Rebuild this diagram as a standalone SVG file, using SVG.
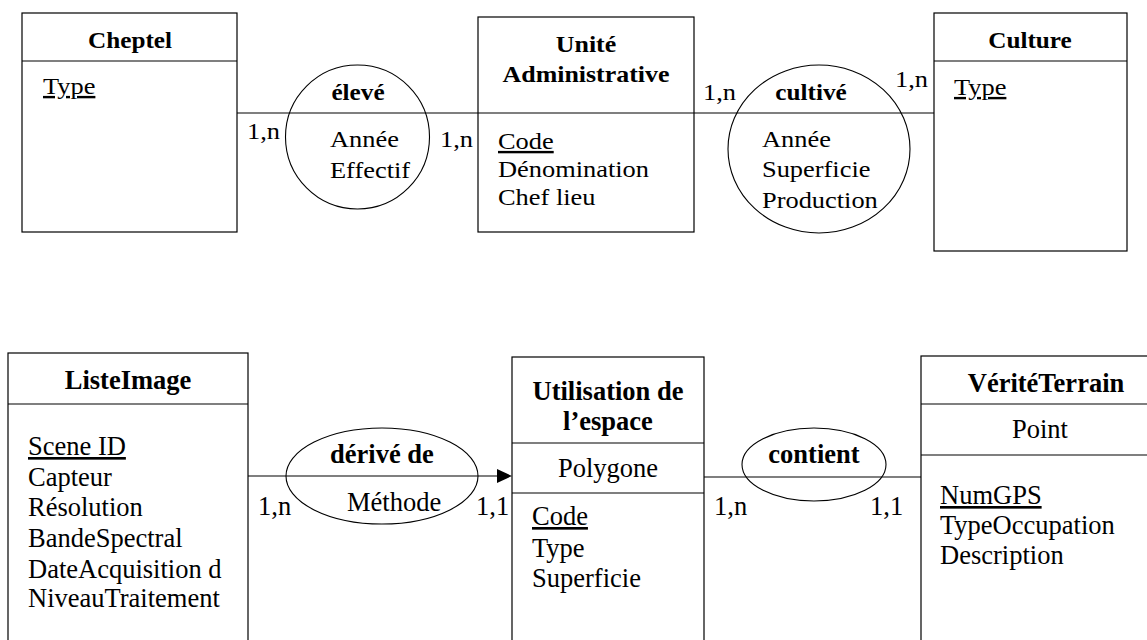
<svg xmlns="http://www.w3.org/2000/svg" width="1147" height="640" viewBox="0 0 1147 640">
  <defs>
    <style>
      .box { fill: #ffffff; stroke: #000000; stroke-width: 1.2; }
      .shape { fill: none; stroke: #000000; stroke-width: 1.1; }
      .div { stroke: #000000; stroke-width: 1.2; }
      .link { stroke: #000000; stroke-width: 1.1; fill: none; }
      text { font-family: "Liberation Serif", "Times New Roman", serif; fill: #000000; }
      .t { font-size: 24px; }
      .tb { font-size: 24px; font-weight: bold; text-anchor: middle; }
      .b { font-size: 26.5px; }
      .bb { font-size: 26.5px; font-weight: bold; text-anchor: middle; }
      .mid { text-anchor: middle; }
      .key { text-decoration: underline; }
    </style>
    <marker id="arrowhead" viewBox="0 0 15 14" refX="0" refY="7" markerWidth="15" markerHeight="14" markerUnits="userSpaceOnUse" orient="auto">
      <path d="M0,0 L15,7 L0,14 Z" fill="#000000"/>
    </marker>
  </defs>

  <rect width="1147" height="640" fill="#ffffff"/>

  <!-- connectors (lines pass behind/through the association shapes) -->
  <g id="connectors">
    <line class="link" x1="237" y1="113" x2="478" y2="113"/>
    <line class="link" x1="694" y1="113" x2="934" y2="113"/>
    <line class="link" x1="248" y1="476" x2="497" y2="476" marker-end="url(#arrowhead)"/>
    <line class="link" x1="704" y1="477" x2="921" y2="477"/>
  </g>

  <!-- cardinalities -->
  <g id="cardinalities">
    <text class="t" transform="translate(247,139) scale(1.1,1)">1,n</text>
    <text class="t" transform="translate(440,147) scale(1.1,1)">1,n</text>
    <text class="t" transform="translate(703,100) scale(1.1,1)">1,n</text>
    <text class="t" transform="translate(895,87) scale(1.1,1)">1,n</text>
    <text class="b" x="258" y="515">1,n</text>
    <text class="b" x="476" y="515">1,1</text>
    <text class="b" x="714" y="515">1,n</text>
    <text class="b" x="870" y="515">1,1</text>
  </g>

  <!-- entity: Cheptel -->
  <g id="cheptel">
    <rect class="box" x="22" y="13" width="215" height="219"/>
    <line class="div" x1="22" y1="61" x2="237" y2="61"/>
    <text class="tb" transform="translate(130,48) scale(1.05,1)">Cheptel</text>
    <text class="t key" transform="translate(43,94) scale(1.1,1)">Type</text>
  </g>

  <!-- association: élevé -->
  <g id="eleve">
    <circle class="shape" cx="357.5" cy="137" r="72"/>
    <text class="tb" transform="translate(358,100) scale(1.05,1)">élevé</text>
    <text class="t" transform="translate(330,147) scale(1.1,1)">Année</text>
    <text class="t" transform="translate(330,178) scale(1.1,1)">Effectif</text>
  </g>

  <!-- entity: Unité Administrative -->
  <g id="unite-administrative">
    <rect class="box" x="478" y="17" width="216" height="215"/>
    <line class="div" x1="478" y1="113" x2="694" y2="113"/>
    <text class="tb" transform="translate(586,52) scale(1.08,1)">Unité</text>
    <text class="tb" transform="translate(586,82) scale(1.08,1)">Administrative</text>
    <text class="t key" transform="translate(498,149) scale(1.1,1)">Code</text>
    <text class="t" transform="translate(498,177) scale(1.1,1)">Dénomination</text>
    <text class="t" transform="translate(498,205) scale(1.1,1)">Chef lieu</text>
  </g>

  <!-- association: cultivé -->
  <g id="cultive">
    <ellipse class="shape" cx="819" cy="149" rx="91" ry="84"/>
    <text class="tb" transform="translate(811,100) scale(1.05,1)">cultivé</text>
    <text class="t" transform="translate(762,147) scale(1.1,1)">Année</text>
    <text class="t" transform="translate(762,177) scale(1.1,1)">Superficie</text>
    <text class="t" transform="translate(762,208) scale(1.1,1)">Production</text>
  </g>

  <!-- entity: Culture -->
  <g id="culture">
    <rect class="box" x="934" y="13" width="193" height="238"/>
    <line class="div" x1="934" y1="61" x2="1127" y2="61"/>
    <text class="tb" transform="translate(1030,48) scale(1.05,1)">Culture</text>
    <text class="t key" transform="translate(954,95) scale(1.1,1)">Type</text>
  </g>

  <!-- entity: ListeImage -->
  <g id="liste-image">
    <rect class="box" x="8" y="353" width="240" height="320"/>
    <line class="div" x1="8" y1="404" x2="248" y2="404"/>
    <text class="bb" x="128" y="389">ListeImage</text>
    <text class="b key" x="28" y="455">Scene ID</text>
    <text class="b" x="28" y="486">Capteur</text>
    <text class="b" x="28" y="516">Résolution</text>
    <text class="b" x="28" y="547">BandeSpectral</text>
    <text class="b" x="28" y="578">DateAcquisition d</text>
    <text class="b" x="28" y="607">NiveauTraitement</text>
  </g>

  <!-- association: dérivé de -->
  <g id="derive-de">
    <ellipse class="shape" cx="382" cy="476" rx="96" ry="48"/>
    <text class="bb" x="382" y="463">dérivé de</text>
    <text class="b" x="347" y="511">Méthode</text>
  </g>

  <!-- entity: Utilisation de l'espace -->
  <g id="utilisation-espace">
    <rect class="box" x="512" y="357" width="192" height="320"/>
    <line class="div" x1="512" y1="443" x2="704" y2="443"/>
    <line class="div" x1="512" y1="493" x2="704" y2="493"/>
    <text class="bb" x="608" y="400">Utilisation de</text>
    <text class="bb" x="608" y="430">l’espace</text>
    <text class="b mid" x="608" y="477">Polygone</text>
    <text class="b key" x="532" y="525">Code</text>
    <text class="b" x="532" y="557">Type</text>
    <text class="b" x="532" y="587">Superficie</text>
  </g>

  <!-- association: contient -->
  <g id="contient">
    <ellipse class="shape" cx="814" cy="464.5" rx="72" ry="36.5"/>
    <text class="bb" x="814" y="463">contient</text>
  </g>

  <!-- entity: VéritéTerrain -->
  <g id="verite-terrain">
    <rect class="box" x="921" y="356" width="260" height="320"/>
    <line class="div" x1="921" y1="404" x2="1181" y2="404"/>
    <line class="div" x1="921" y1="455" x2="1181" y2="455"/>
    <text class="bb" x="1046" y="392">VéritéTerrain</text>
    <text class="b mid" x="1040" y="438">Point</text>
    <text class="b key" x="940" y="504">NumGPS</text>
    <text class="b" x="940" y="534">TypeOccupation</text>
    <text class="b" x="940" y="564">Description</text>
  </g>
</svg>
